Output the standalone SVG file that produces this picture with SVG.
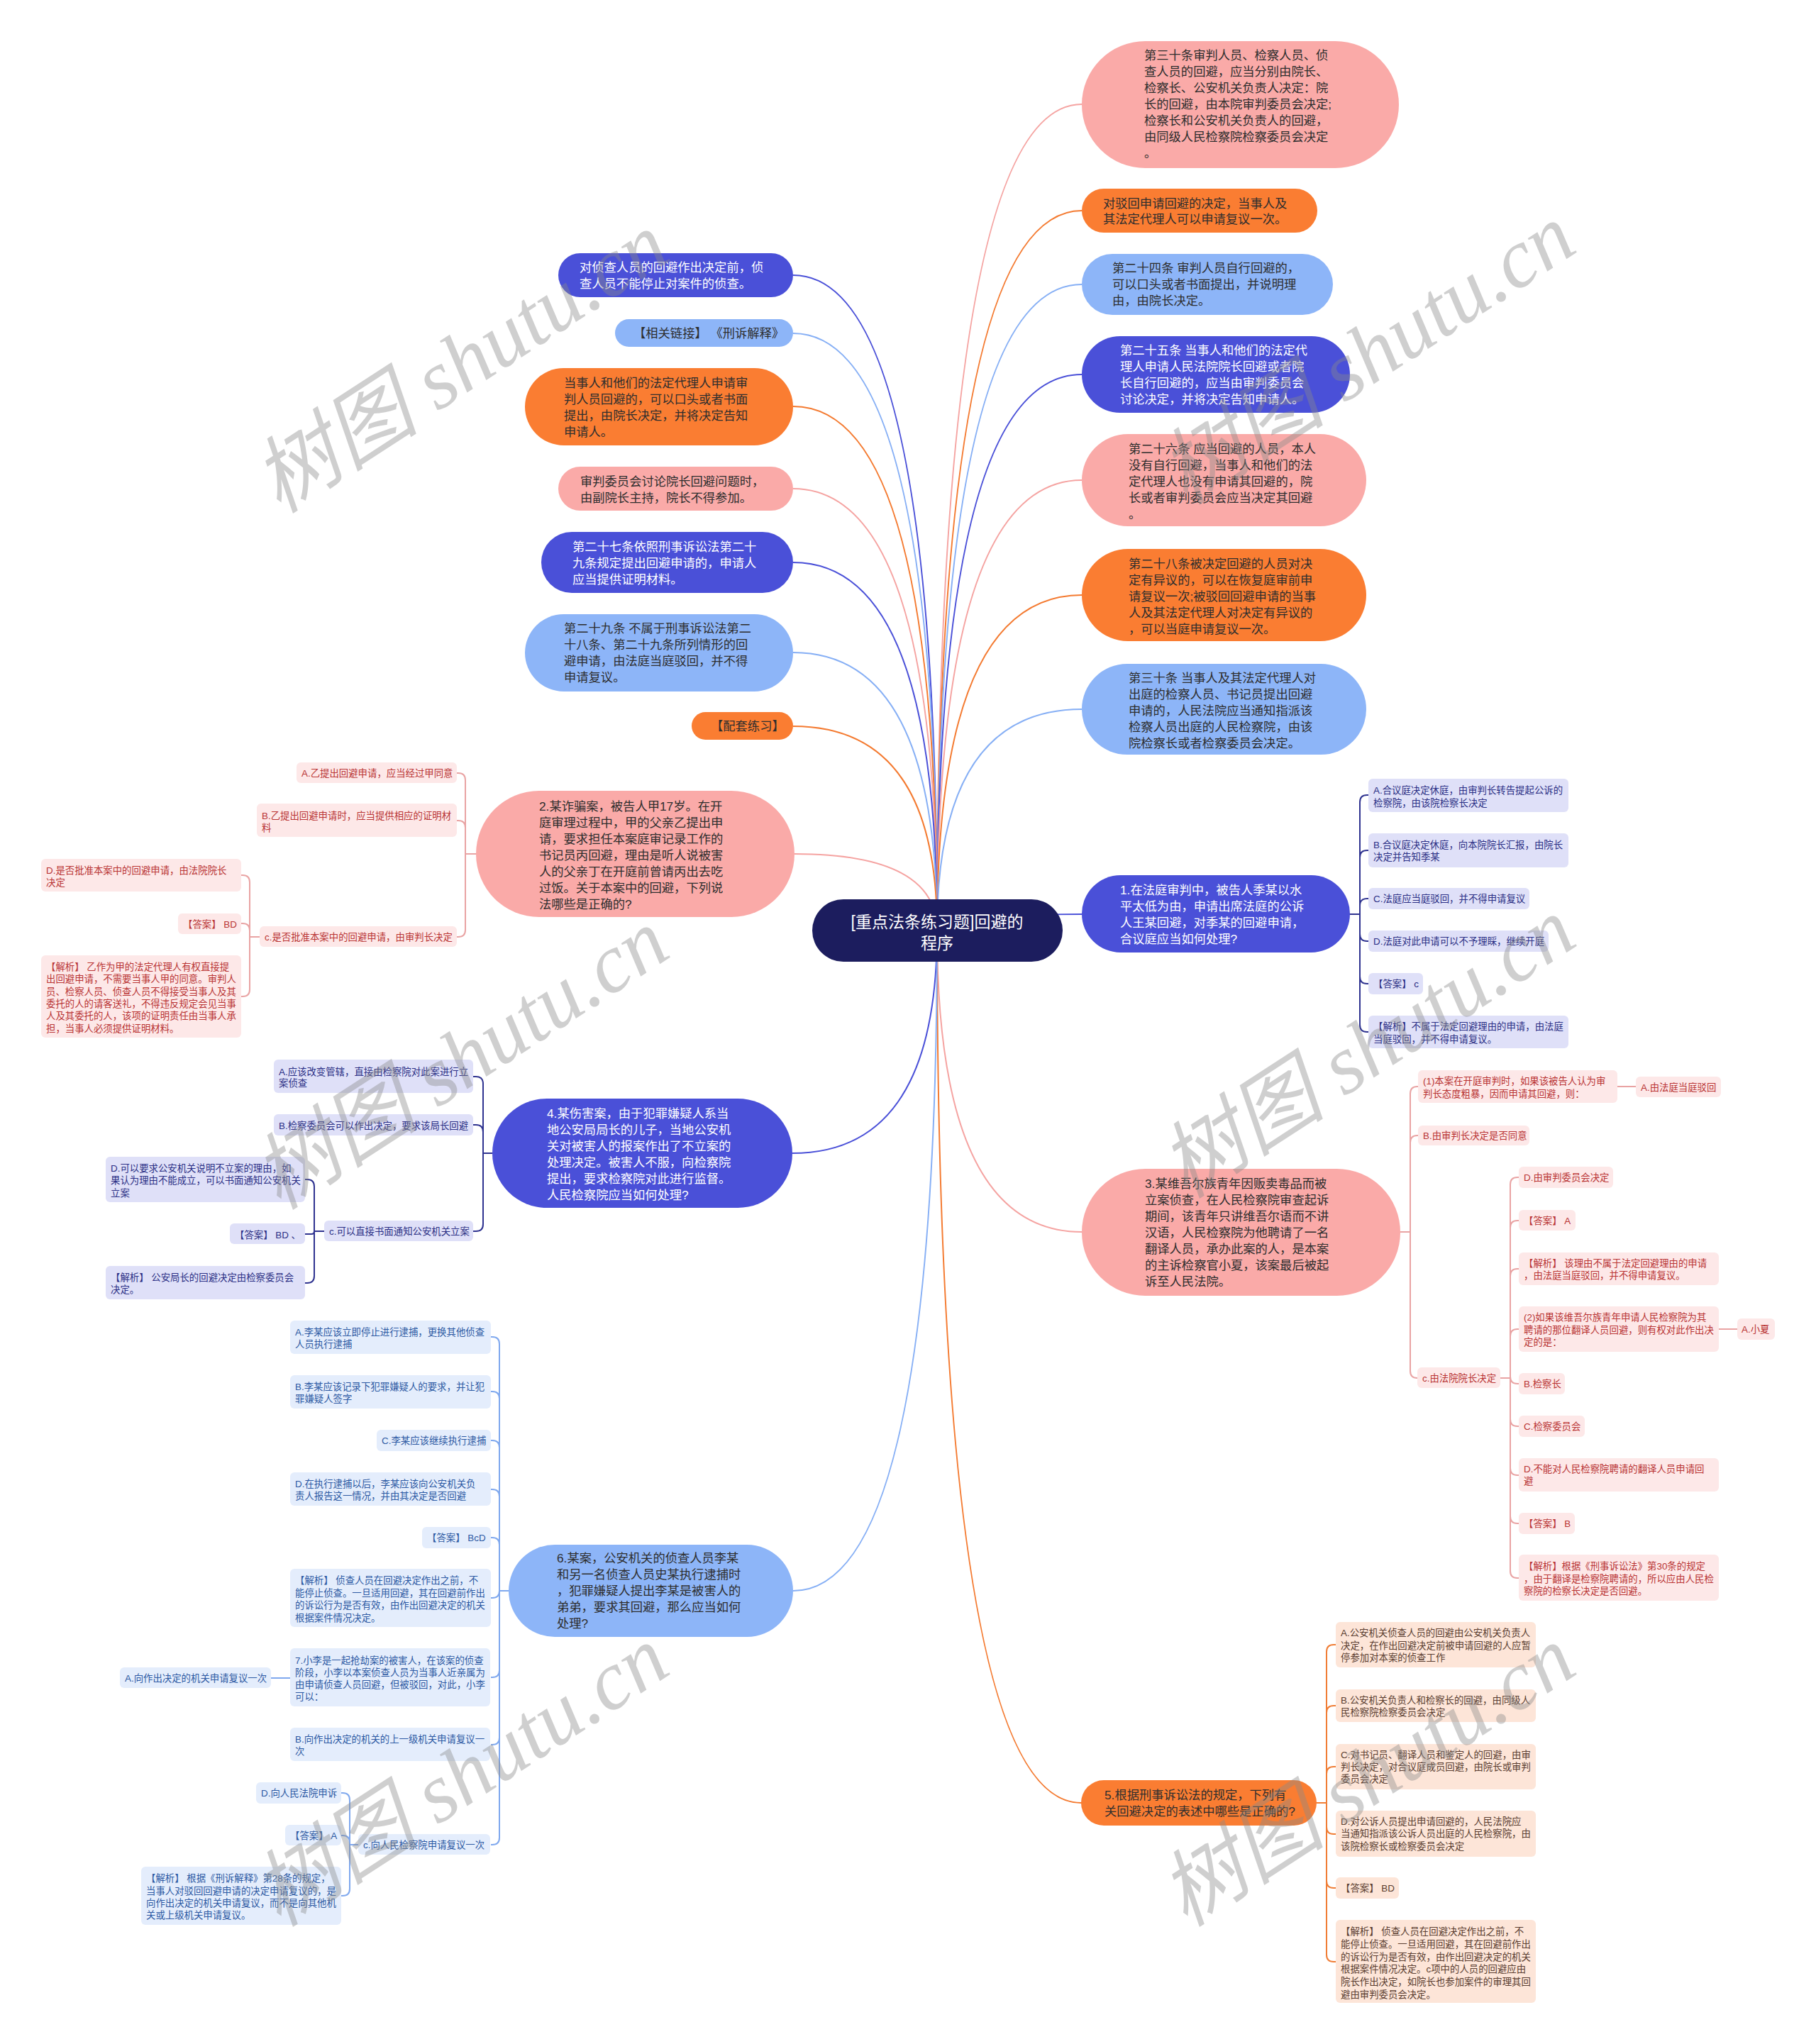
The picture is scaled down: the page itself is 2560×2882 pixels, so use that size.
<svg xmlns="http://www.w3.org/2000/svg" width="2560" height="2882" viewBox="0 0 2560 2882">
<style>
text,tspan{dominant-baseline:central}
text{font-family:"Liberation Sans","Noto Sans CJK SC",sans-serif}
.m{font-size:17.3px}
.s{font-size:13.4px}
.c{font-size:23px;fill:#ffffff}
.w{fill:#ffffff}
.d{fill:#2e2e2e}
.pk{fill:#faaaa8}
.or{fill:#fa7d32}
.lb{fill:#8db5f8}
.rb{fill:#4a50d8}
.cb{fill:#fde8e8}
.ct{fill:#b93434}
.lv{fill:#dfe0f8}
.lt{fill:#2b2f85}
.bb{fill:#e4edfc}
.bt{fill:#2c59a3}
.pb{fill:#fde5d8}
.pt{fill:#5a3d30}
.ln{fill:none;stroke-width:2}
.lpk{stroke:#f5a3a1}
.lor{stroke:#f47a30}
.llb{stroke:#86aff5}
.lrb{stroke:#4a50d8}
.lnv{stroke:#2f3390}
.lcp{stroke:#e9a3a3}
.lbl{stroke:#7fa8ee}
.lpo{stroke:#f07d35}
.wm{font-family:"Liberation Serif","Noto Sans CJK SC",serif;font-size:118px;font-style:italic;fill:#8a8a8a;opacity:0.4}
</style>
<rect x="0" y="0" width="2560" height="2882" fill="#ffffff"/>
<g id="connectors">
<path class="ln lpk" d="M1321,1312 Q1321,147 1525,147"/>
<path class="ln lor" d="M1321,1312 Q1321,297 1525,297"/>
<path class="ln llb" d="M1321,1312 Q1321,401 1525,401"/>
<path class="ln lrb" d="M1321,1312 Q1321,528 1525,528"/>
<path class="ln lpk" d="M1321,1312 Q1321,677 1525,677"/>
<path class="ln lor" d="M1321,1312 Q1321,839 1525,839"/>
<path class="ln llb" d="M1321,1312 Q1321,1000 1525,1000"/>
<path class="ln lrb" d="M1321,1312 Q1321,1289 1525,1289"/>
<path class="ln lpk" d="M1321,1312 Q1321,1737 1525,1737"/>
<path class="ln lor" d="M1321,1312 Q1321,2542 1524,2542"/>
<path class="ln lrb" d="M1321,1312 Q1321,388 1118,388"/>
<path class="ln llb" d="M1321,1312 Q1321,470 1118,470"/>
<path class="ln lor" d="M1321,1312 Q1321,573 1118,573"/>
<path class="ln lpk" d="M1321,1312 Q1321,689 1118,689"/>
<path class="ln lrb" d="M1321,1312 Q1321,793 1118,793"/>
<path class="ln llb" d="M1321,1312 Q1321,920 1118,920"/>
<path class="ln lor" d="M1321,1312 Q1321,1024 1118,1024"/>
<path class="ln lpk" d="M1321,1312 Q1321,1204 1120,1204"/>
<path class="ln lrb" d="M1321,1312 Q1321,1626 1117,1626"/>
<path class="ln llb" d="M1321,1312 Q1321,2243 1118,2243"/>
<!-- Q2 -->
<path class="ln lcp" d="M671,1204 H656 V1100 Q656,1090 646,1090 H644"/>
<path class="ln lcp" d="M671,1204 H656 V1167 Q656,1157 646,1157 H644"/>
<path class="ln lcp" d="M671,1204 H656 V1311 Q656,1321 646,1321 H644"/>
<path class="ln lcp" d="M366,1321 H352 V1244 Q352,1234 342,1234 H340"/>
<path class="ln lcp" d="M366,1321 H352 V1312 Q352,1302 342,1302 H340"/>
<path class="ln lcp" d="M366,1321 H352 V1395 Q352,1405 342,1405 H340"/>
<!-- Q1 -->
<path class="ln lnv" d="M1903,1289 H1917 V1131 Q1917,1121 1927,1121 H1929"/>
<path class="ln lnv" d="M1903,1289 H1917 V1209 Q1917,1199 1927,1199 H1929"/>
<path class="ln lnv" d="M1903,1289 H1917 V1277 Q1917,1267 1927,1267 H1929"/>
<path class="ln lnv" d="M1903,1289 H1917 V1317 Q1917,1327 1927,1327 H1929"/>
<path class="ln lnv" d="M1903,1289 H1917 V1377 Q1917,1387 1927,1387 H1929"/>
<path class="ln lnv" d="M1903,1289 H1917 V1445 Q1917,1455 1927,1455 H1929"/>
<!-- Q3 -->
<path class="ln lcp" d="M1974,1737 H1988 V1542 Q1988,1532 1998,1532 H1999"/>
<path class="ln lcp" d="M1974,1737 H1988 V1611 Q1988,1601 1998,1601 H1999"/>
<path class="ln lcp" d="M1974,1737 H1988 V1933 Q1988,1943 1998,1943"/>
<path class="ln lcp" d="M2280,1532 H2306"/>
<path class="ln lcp" d="M2115,1943 H2129 V1670 Q2129,1660 2139,1660 H2141"/>
<path class="ln lcp" d="M2115,1943 H2129 V1731 Q2129,1721 2139,1721 H2141"/>
<path class="ln lcp" d="M2115,1943 H2129 V1799 Q2129,1789 2139,1789 H2141"/>
<path class="ln lcp" d="M2115,1943 H2129 V1884 Q2129,1874 2139,1874 H2141"/>
<path class="ln lcp" d="M2115,1943 H2129 V1941 Q2129,1951 2139,1951 H2141"/>
<path class="ln lcp" d="M2115,1943 H2129 V2001 Q2129,2011 2139,2011 H2141"/>
<path class="ln lcp" d="M2115,1943 H2129 V2070 Q2129,2080 2139,2080 H2141"/>
<path class="ln lcp" d="M2115,1943 H2129 V2138 Q2129,2148 2139,2148 H2141"/>
<path class="ln lcp" d="M2115,1943 H2129 V2215 Q2129,2225 2139,2225 H2141"/>
<path class="ln lcp" d="M2423,1874 H2449"/>
<!-- Q4 -->
<path class="ln lnv" d="M694,1626 H681 V1528 Q681,1518 671,1518 H667"/>
<path class="ln lnv" d="M694,1626 H681 V1596 Q681,1586 671,1586 H667"/>
<path class="ln lnv" d="M694,1626 H681 V1726 Q681,1736 671,1736 H667"/>
<path class="ln lnv" d="M457,1736 H443 V1673 Q443,1663 433,1663 H430"/>
<path class="ln lnv" d="M457,1736 H443 Q443,1740 439,1740 H430"/>
<path class="ln lnv" d="M457,1736 H443 V1799 Q443,1809 433,1809 H430"/>
<!-- Q6 -->
<path class="ln lbl" d="M717,2243 H704 V1895 Q704,1885 694,1885 H692"/>
<path class="ln lbl" d="M717,2243 H704 V1972 Q704,1962 694,1962 H692"/>
<path class="ln lbl" d="M717,2243 H704 V2041 Q704,2031 694,2031 H692"/>
<path class="ln lbl" d="M717,2243 H704 V2110 Q704,2100 694,2100 H692"/>
<path class="ln lbl" d="M717,2243 H704 V2178 Q704,2168 694,2168 H692"/>
<path class="ln lbl" d="M717,2243 H704 Q704,2253 694,2253 H692"/>
<path class="ln lbl" d="M717,2243 H704 V2355 Q704,2365 694,2365 H692"/>
<path class="ln lbl" d="M717,2243 H704 V2450 Q704,2460 694,2460 H692"/>
<path class="ln lbl" d="M717,2243 H704 V2591 Q704,2601 694,2601 H692"/>
<path class="ln lbl" d="M409,2366 H382"/>
<path class="ln lbl" d="M505,2601 H493 V2538 Q493,2528 483,2528 H481"/>
<path class="ln lbl" d="M505,2601 H493 V2598 Q493,2588 483,2588 H481"/>
<path class="ln lbl" d="M505,2601 H493 V2663 Q493,2673 483,2673 H481"/>
<!-- Q5 -->
<path class="ln lpo" d="M1856,2542 H1870 V2329 Q1870,2319 1880,2319 H1883"/>
<path class="ln lpo" d="M1856,2542 H1870 V2415 Q1870,2405 1880,2405 H1883"/>
<path class="ln lpo" d="M1856,2542 H1870 V2501 Q1870,2491 1880,2491 H1883"/>
<path class="ln lpo" d="M1856,2542 H1870 V2576 Q1870,2586 1880,2586 H1883"/>
<path class="ln lpo" d="M1856,2542 H1870 V2652 Q1870,2662 1880,2662 H1883"/>
<path class="ln lpo" d="M1856,2542 H1870 V2756 Q1870,2766 1880,2766 H1883"/>
</g>
<g id="center"><rect x="1145" y="1268" width="353" height="88" rx="44" fill="#1c1d5e"/><text class="c" text-anchor="middle"><tspan x="1321" y="1300">[重点法条练习题]回避的</tspan><tspan x="1321" y="1330">程序</tspan></text></g>
<g id="n-r1"><rect class="pk" x="1525" y="58" width="447" height="179" rx="89.5"/><text class="m d"><tspan x="1613" y="78">第三十条审判人员、检察人员、侦</tspan><tspan x="1613" y="101">查人员的回避，应当分别由院长、</tspan><tspan x="1613" y="124">检察长、公安机关负责人决定：院</tspan><tspan x="1613" y="147">长的回避，由本院审判委员会决定;</tspan><tspan x="1613" y="170">检察长和公安机关负责人的回避，</tspan><tspan x="1613" y="193">由同级人民检察院检察委员会决定</tspan><tspan x="1613" y="216">。</tspan></text></g>
<g id="n-r2"><rect class="or" x="1525" y="266" width="332" height="62" rx="31"/><text class="m d"><tspan x="1555" y="287">对驳回申请回避的决定，当事人及</tspan><tspan x="1555" y="309">其法定代理人可以申请复议一次。</tspan></text></g>
<g id="n-r3"><rect class="lb" x="1525" y="358" width="354" height="86" rx="43"/><text class="m d"><tspan x="1568" y="378">第二十四条 审判人员自行回避的，</tspan><tspan x="1568" y="401">可以口头或者书面提出，并说明理</tspan><tspan x="1568" y="424">由，由院长决定。</tspan></text></g>
<g id="n-r4"><rect class="rb" x="1525" y="474" width="378" height="108" rx="54"/><text class="m w"><tspan x="1579" y="494">第二十五条 当事人和他们的法定代</tspan><tspan x="1579" y="517">理人申请人民法院院长回避或者院</tspan><tspan x="1579" y="540">长自行回避的，应当由审判委员会</tspan><tspan x="1579" y="563">讨论决定，并将决定告知申请人。</tspan></text></g>
<g id="n-r5"><rect class="pk" x="1525" y="612" width="401" height="130" rx="65"/><text class="m d"><tspan x="1591" y="633">第二十六条 应当回避的人员，本人</tspan><tspan x="1591" y="656">没有自行回避，当事人和他们的法</tspan><tspan x="1591" y="679">定代理人也没有申请其回避的，院</tspan><tspan x="1591" y="702">长或者审判委员会应当决定其回避</tspan><tspan x="1591" y="725">。</tspan></text></g>
<g id="n-r6"><rect class="or" x="1525" y="774" width="401" height="130" rx="65"/><text class="m d"><tspan x="1591" y="795">第二十八条被决定回避的人员对决</tspan><tspan x="1591" y="818">定有异议的，可以在恢复庭审前申</tspan><tspan x="1591" y="841">请复议一次;被驳回回避申请的当事</tspan><tspan x="1591" y="864">人及其法定代理人对决定有异议的</tspan><tspan x="1591" y="887">，可以当庭申请复议一次。</tspan></text></g>
<g id="n-r7"><rect class="lb" x="1525" y="936" width="401" height="128" rx="64"/><text class="m d"><tspan x="1591" y="956">第三十条 当事人及其法定代理人对</tspan><tspan x="1591" y="979">出庭的检察人员、书记员提出回避</tspan><tspan x="1591" y="1002">申请的，人民法院应当通知指派该</tspan><tspan x="1591" y="1025">检察人员出庭的人民检察院，由该</tspan><tspan x="1591" y="1048">院检察长或者检察委员会决定。</tspan></text></g>
<g id="n-q1"><rect class="rb" x="1525" y="1234" width="378" height="109" rx="54.5"/><text class="m w"><tspan x="1579" y="1255">1.在法庭审判中，被告人季某以水</tspan><tspan x="1579" y="1278">平太低为由，申请出席法庭的公诉</tspan><tspan x="1579" y="1301">人王某回避，对季某的回避申请，</tspan><tspan x="1579" y="1324">合议庭应当如何处理?</tspan></text></g>
<g id="n-q3"><rect class="pk" x="1525" y="1648" width="449" height="179" rx="89.5"/><text class="m d"><tspan x="1614" y="1669">3.某维吾尔族青年因贩卖毒品而被</tspan><tspan x="1614" y="1692">立案侦查，在人民检察院审查起诉</tspan><tspan x="1614" y="1715">期间，该青年只讲维吾尔语而不讲</tspan><tspan x="1614" y="1738">汉语，人民检察院为他聘请了一名</tspan><tspan x="1614" y="1761">翻译人员，承办此案的人，是本案</tspan><tspan x="1614" y="1784">的主诉检察官小夏，该案最后被起</tspan><tspan x="1614" y="1807">诉至人民法院。</tspan></text></g>
<g id="n-q5"><rect class="or" x="1524" y="2510" width="332" height="64" rx="32"/><text class="m d"><tspan x="1557" y="2531">5.根据刑事诉讼法的规定，下列有</tspan><tspan x="1557" y="2554">关回避决定的表述中哪些是正确的?</tspan></text></g>
<g id="n-l1"><rect class="rb" x="787" y="357" width="331" height="62" rx="31"/><text class="m w"><tspan x="817" y="377">对侦查人员的回避作出决定前，侦</tspan><tspan x="817" y="400">查人员不能停止对案件的侦查。</tspan></text></g>
<g id="n-l2"><rect class="lb" x="867" y="450" width="251" height="39" rx="19.5"/><text class="m d"><tspan x="893" y="470">【相关链接】 《刑诉解释》</tspan></text></g>
<g id="n-l3"><rect class="or" x="740" y="519" width="378" height="109" rx="54.5"/><text class="m d"><tspan x="795" y="540">当事人和他们的法定代理人申请审</tspan><tspan x="795" y="563">判人员回避的，可以口头或者书面</tspan><tspan x="795" y="586">提出，由院长决定，并将决定告知</tspan><tspan x="795" y="609">申请人。</tspan></text></g>
<g id="n-l4"><rect class="pk" x="787" y="658" width="331" height="62" rx="31"/><text class="m d"><tspan x="818" y="679">审判委员会讨论院长回避问题时，</tspan><tspan x="818" y="702">由副院长主持，院长不得参加。</tspan></text></g>
<g id="n-l5"><rect class="rb" x="763" y="750" width="355" height="86" rx="43"/><text class="m w"><tspan x="807" y="771">第二十七条依照刑事诉讼法第二十</tspan><tspan x="807" y="794">九条规定提出回避申请的，申请人</tspan><tspan x="807" y="817">应当提供证明材料。</tspan></text></g>
<g id="n-l6"><rect class="lb" x="740" y="866" width="378" height="109" rx="54.5"/><text class="m d"><tspan x="795" y="886">第二十九条 不属于刑事诉讼法第二</tspan><tspan x="795" y="909">十八条、第二十九条所列情形的回</tspan><tspan x="795" y="932">避申请，由法庭当庭驳回，并不得</tspan><tspan x="795" y="955">申请复议。</tspan></text></g>
<g id="n-l7"><rect class="or" x="975" y="1004" width="143" height="39" rx="19.5"/><text class="m d"><tspan x="1002" y="1024">【配套练习】</tspan></text></g>
<g id="n-q2"><rect class="pk" x="671" y="1115" width="449" height="178" rx="89"/><text class="m d"><tspan x="760" y="1137">2.某诈骗案，被告人甲17岁。在开</tspan><tspan x="760" y="1160">庭审理过程中，甲的父亲乙提出申</tspan><tspan x="760" y="1183">请，要求担任本案庭审记录工作的</tspan><tspan x="760" y="1206">书记员丙回避，理由是听人说被害</tspan><tspan x="760" y="1229">人的父亲丁在开庭前曾请丙出去吃</tspan><tspan x="760" y="1252">过饭。关于本案中的回避，下列说</tspan><tspan x="760" y="1275">法哪些是正确的?</tspan></text></g>
<g id="n-q4"><rect class="rb" x="694" y="1549" width="423" height="154" rx="77"/><text class="m w"><tspan x="771" y="1570">4.某伤害案，由于犯罪嫌疑人系当</tspan><tspan x="771" y="1593">地公安局局长的儿子，当地公安机</tspan><tspan x="771" y="1616">关对被害人的报案作出了不立案的</tspan><tspan x="771" y="1639">处理决定。被害人不服，向检察院</tspan><tspan x="771" y="1662">提出，要求检察院对此进行监督。</tspan><tspan x="771" y="1685">人民检察院应当如何处理?</tspan></text></g>
<g id="n-q6"><rect class="lb" x="717" y="2178" width="401" height="130" rx="65"/><text class="m d"><tspan x="785" y="2197">6.某案，公安机关的侦查人员李某</tspan><tspan x="785" y="2220">和另一名侦查人员史某执行逮捕时</tspan><tspan x="785" y="2243">，犯罪嫌疑人提出李某是被害人的</tspan><tspan x="785" y="2266">弟弟，要求其回避，那么应当如何</tspan><tspan x="785" y="2289">处理?</tspan></text></g>
<!-- Q2 children -->
<g id="q2-a"><rect class="cb" x="418" y="1075" width="226" height="29" rx="6"/><text class="s ct"><tspan x="425" y="1090">A.乙提出回避申请，应当经过甲同意</tspan></text></g>
<g id="q2-b"><rect class="cb" x="362" y="1133" width="282" height="47" rx="6"/><text class="s ct"><tspan x="369" y="1150">B.乙提出回避申请时，应当提供相应的证明材</tspan><tspan x="369" y="1167">料</tspan></text></g>
<g id="q2-c"><rect class="cb" x="366" y="1306" width="278" height="29" rx="6"/><text class="s ct"><tspan x="373" y="1321">c.是否批准本案中的回避申请，由审判长决定</tspan></text></g>
<g id="q2-d"><rect class="cb" x="58" y="1211" width="282" height="46" rx="6"/><text class="s ct"><tspan x="65" y="1227">D.是否批准本案中的回避申请，由法院院长</tspan><tspan x="65" y="1244">决定</tspan></text></g>
<g id="q2-ans"><rect class="cb" x="251" y="1288" width="89" height="29" rx="6"/><text class="s ct"><tspan x="258" y="1303">【答案】 BD</tspan></text></g>
<g id="q2-exp"><rect class="cb" x="58" y="1347" width="282" height="116" rx="6"/><text class="s ct"><tspan x="65" y="1363">【解析】 乙作为甲的法定代理人有权直接提</tspan><tspan x="65" y="1380">出回避申请，不需要当事人甲的同意。审判人</tspan><tspan x="65" y="1398">员、检察人员、侦查人员不得接受当事人及其</tspan><tspan x="65" y="1415">委托的人的请客送礼，不得违反规定会见当事</tspan><tspan x="65" y="1432">人及其委托的人，该项的证明责任由当事人承</tspan><tspan x="65" y="1450">担，当事人必须提供证明材料。</tspan></text></g>
<!-- Q1 children -->
<g id="q1-a"><rect class="lv" x="1929" y="1098" width="282" height="47" rx="6"/><text class="s lt"><tspan x="1936" y="1114">A.合议庭决定休庭，由审判长转告提起公诉的</tspan><tspan x="1936" y="1132">检察院，由该院检察长决定</tspan></text></g>
<g id="q1-b"><rect class="lv" x="1929" y="1175" width="282" height="48" rx="6"/><text class="s lt"><tspan x="1936" y="1191">B.合议庭决定休庭，向本院院长汇报，由院长</tspan><tspan x="1936" y="1208">决定并告知季某</tspan></text></g>
<g id="q1-c"><rect class="lv" x="1929" y="1252" width="227" height="30" rx="6"/><text class="s lt"><tspan x="1936" y="1267">C.法庭应当庭驳回，并不得申请复议</tspan></text></g>
<g id="q1-d"><rect class="lv" x="1929" y="1312" width="254" height="30" rx="6"/><text class="s lt"><tspan x="1936" y="1327">D.法庭对此申请可以不予理睬，继续开庭</tspan></text></g>
<g id="q1-ans"><rect class="lv" x="1929" y="1372" width="77" height="30" rx="6"/><text class="s lt"><tspan x="1936" y="1387">【答案】 c</tspan></text></g>
<g id="q1-exp"><rect class="lv" x="1929" y="1432" width="282" height="46" rx="6"/><text class="s lt"><tspan x="1936" y="1447">【解析】不属于法定回避理由的申请，由法庭</tspan><tspan x="1936" y="1465">当庭驳回，并不得申请复议。</tspan></text></g>
<!-- Q3 children -->
<g id="q3-1"><rect class="cb" x="1999" y="1509" width="281" height="46" rx="6"/><text class="s ct"><tspan x="2006" y="1524">(1)本案在开庭审判时，如果该被告人认为审</tspan><tspan x="2006" y="1542">判长态度粗暴，因而申请其回避，则：</tspan></text></g>
<g id="q3-1a"><rect class="cb" x="2306" y="1518" width="120" height="29" rx="6"/><text class="s ct"><tspan x="2313" y="1533">A.由法庭当庭驳回</tspan></text></g>
<g id="q3-b"><rect class="cb" x="1999" y="1587" width="157" height="28" rx="6"/><text class="s ct"><tspan x="2006" y="1601">B.由审判长决定是否同意</tspan></text></g>
<g id="q3-c"><rect class="cb" x="1998" y="1928" width="117" height="29" rx="6"/><text class="s ct"><tspan x="2005" y="1943">c.由法院院长决定</tspan></text></g>
<g id="q3-c-d"><rect class="cb" x="2141" y="1645" width="133" height="30" rx="6"/><text class="s ct"><tspan x="2148" y="1660">D.由审判委员会决定</tspan></text></g>
<g id="q3-c-ans1"><rect class="cb" x="2141" y="1706" width="80" height="29" rx="6"/><text class="s ct"><tspan x="2148" y="1721">【答案】 A</tspan></text></g>
<g id="q3-c-exp1"><rect class="cb" x="2141" y="1766" width="282" height="46" rx="6"/><text class="s ct"><tspan x="2148" y="1781">【解析】 该理由不属于法定回避理由的申请</tspan><tspan x="2148" y="1798">，由法庭当庭驳回，并不得申请复议。</tspan></text></g>
<g id="q3-c-2"><rect class="cb" x="2141" y="1842" width="282" height="64" rx="6"/><text class="s ct"><tspan x="2148" y="1857">(2)如果该维吾尔族青年申请人民检察院为其</tspan><tspan x="2148" y="1875">聘请的那位翻译人员回避，则有权对此作出决</tspan><tspan x="2148" y="1892">定的是：</tspan></text></g>
<g id="q3-c-2a"><rect class="cb" x="2449" y="1859" width="53" height="30" rx="6"/><text class="s ct"><tspan x="2455" y="1874">A.小夏</tspan></text></g>
<g id="q3-c-b"><rect class="cb" x="2141" y="1936" width="65" height="30" rx="6"/><text class="s ct"><tspan x="2148" y="1951">B.检察长</tspan></text></g>
<g id="q3-c-c"><rect class="cb" x="2141" y="1996" width="93" height="30" rx="6"/><text class="s ct"><tspan x="2148" y="2011">C.检察委员会</tspan></text></g>
<g id="q3-c-dd"><rect class="cb" x="2141" y="2056" width="282" height="47" rx="6"/><text class="s ct"><tspan x="2148" y="2071">D.不能对人民检察院聘请的翻译人员申请回</tspan><tspan x="2148" y="2088">避</tspan></text></g>
<g id="q3-c-ans2"><rect class="cb" x="2141" y="2133" width="79" height="30" rx="6"/><text class="s ct"><tspan x="2148" y="2148">【答案】 B</tspan></text></g>
<g id="q3-c-exp2"><rect class="cb" x="2141" y="2192" width="282" height="65" rx="6"/><text class="s ct"><tspan x="2148" y="2208">【解析】根据《刑事诉讼法》第30条的规定</tspan><tspan x="2148" y="2226">，由于翻译是检察院聘请的，所以应由人民检</tspan><tspan x="2148" y="2243">察院的检察长决定是否回避。</tspan></text></g>
<!-- Q4 children -->
<g id="q4-a"><rect class="lv" x="386" y="1494" width="281" height="47" rx="6"/><text class="s lt"><tspan x="393" y="1511">A.应该改变管辖，直接由检察院对此案进行立</tspan><tspan x="393" y="1527">案侦查</tspan></text></g>
<g id="q4-b"><rect class="lv" x="386" y="1571" width="281" height="30" rx="6"/><text class="s lt"><tspan x="393" y="1587">B.检察委员会可以作出决定，要求该局长回避</tspan></text></g>
<g id="q4-c"><rect class="lv" x="457" y="1721" width="210" height="29" rx="6"/><text class="s lt"><tspan x="464" y="1736">c.可以直接书面通知公安机关立案</tspan></text></g>
<g id="q4-c-d"><rect class="lv" x="149" y="1631" width="281" height="64" rx="6"/><text class="s lt"><tspan x="156" y="1647">D.可以要求公安机关说明不立案的理由，如</tspan><tspan x="156" y="1664">果认为理由不能成立，可以书面通知公安机关</tspan><tspan x="156" y="1682">立案</tspan></text></g>
<g id="q4-c-ans"><rect class="lv" x="324" y="1725" width="106" height="29" rx="6"/><text class="s lt"><tspan x="331" y="1741">【答案】 BD 、</tspan></text></g>
<g id="q4-c-exp"><rect class="lv" x="149" y="1785" width="281" height="47" rx="6"/><text class="s lt"><tspan x="156" y="1801">【解析】 公安局长的回避决定由检察委员会</tspan><tspan x="156" y="1818">决定。</tspan></text></g>
<!-- Q6 children -->
<g id="q6-a"><rect class="bb" x="409" y="1862" width="283" height="47" rx="6"/><text class="s bt"><tspan x="416" y="1878">A.李某应该立即停止进行逮捕，更换其他侦查</tspan><tspan x="416" y="1895">人员执行逮捕</tspan></text></g>
<g id="q6-b"><rect class="bb" x="409" y="1939" width="283" height="47" rx="6"/><text class="s bt"><tspan x="416" y="1955">B.李某应该记录下犯罪嫌疑人的要求，并让犯</tspan><tspan x="416" y="1972">罪嫌疑人签字</tspan></text></g>
<g id="q6-c"><rect class="bb" x="531" y="2016" width="161" height="30" rx="6"/><text class="s bt"><tspan x="538" y="2031">C.李某应该继续执行逮捕</tspan></text></g>
<g id="q6-d"><rect class="bb" x="409" y="2076" width="283" height="47" rx="6"/><text class="s bt"><tspan x="416" y="2092">D.在执行逮捕以后，李某应该向公安机关负</tspan><tspan x="416" y="2109">责人报告这一情况，并由其决定是否回避</tspan></text></g>
<g id="q6-ans"><rect class="bb" x="595" y="2153" width="97" height="30" rx="6"/><text class="s bt"><tspan x="602" y="2168">【答案】 BcD</tspan></text></g>
<g id="q6-exp"><rect class="bb" x="409" y="2212" width="283" height="82" rx="6"/><text class="s bt"><tspan x="416" y="2228">【解析】 侦查人员在回避决定作出之前，不</tspan><tspan x="416" y="2246">能停止侦查。一旦适用回避，其在回避前作出</tspan><tspan x="416" y="2263">的诉讼行为是否有效，由作出回避决定的机关</tspan><tspan x="416" y="2281">根据案件情况决定。</tspan></text></g>
<g id="q6-7"><rect class="bb" x="409" y="2324" width="282" height="82" rx="6"/><text class="s bt"><tspan x="416" y="2341">7.小李是一起抢劫案的被害人，在该案的侦查</tspan><tspan x="416" y="2358">阶段，小李以本案侦查人员为当事人近亲属为</tspan><tspan x="416" y="2375">由申请侦查人员回避，但被驳回，对此，小李</tspan><tspan x="416" y="2392">可以：</tspan></text></g>
<g id="q6-7a"><rect class="bb" x="169" y="2351" width="213" height="29" rx="6"/><text class="s bt"><tspan x="176" y="2366">A.向作出决定的机关申请复议一次</tspan></text></g>
<g id="q6-bb"><rect class="bb" x="409" y="2436" width="282" height="47" rx="6"/><text class="s bt"><tspan x="416" y="2452">B.向作出决定的机关的上一级机关申请复议一</tspan><tspan x="416" y="2469">次</tspan></text></g>
<g id="q6-cc"><rect class="bb" x="505" y="2586" width="186" height="29" rx="6"/><text class="s bt"><tspan x="512" y="2601">c.向人民检察院申请复议一次</tspan></text></g>
<g id="q6-cc-d"><rect class="bb" x="361" y="2513" width="120" height="30" rx="6"/><text class="s bt"><tspan x="368" y="2528">D.向人民法院申诉</tspan></text></g>
<g id="q6-cc-ans"><rect class="bb" x="402" y="2573" width="79" height="29" rx="6"/><text class="s bt"><tspan x="409" y="2588">【答案】 A</tspan></text></g>
<g id="q6-cc-exp"><rect class="bb" x="199" y="2632" width="282" height="82" rx="6"/><text class="s bt"><tspan x="206" y="2648">【解析】 根据《刑诉解释》第28条的规定，</tspan><tspan x="206" y="2666">当事人对驳回回避申请的决定申请复议的，是</tspan><tspan x="206" y="2683">向作出决定的机关申请复议，而不是向其他机</tspan><tspan x="206" y="2700">关或上级机关申请复议。</tspan></text></g>
<!-- Q5 children -->
<g id="q5-a"><rect class="pb" x="1883" y="2287" width="282" height="64" rx="6"/><text class="s pt"><tspan x="1890" y="2302">A.公安机关侦查人员的回避由公安机关负责人</tspan><tspan x="1890" y="2320">决定，在作出回避决定前被申请回避的人应暂</tspan><tspan x="1890" y="2337">停参加对本案的侦查工作</tspan></text></g>
<g id="q5-b"><rect class="pb" x="1883" y="2382" width="282" height="46" rx="6"/><text class="s pt"><tspan x="1890" y="2397">B.公安机关负责人和检察长的回避，由同级人</tspan><tspan x="1890" y="2414">民检察院检察委员会决定</tspan></text></g>
<g id="q5-c"><rect class="pb" x="1883" y="2459" width="282" height="64" rx="6"/><text class="s pt"><tspan x="1890" y="2474">C.对书记员、翻译人员和鉴定人的回避，由审</tspan><tspan x="1890" y="2491">判长决定，对合议庭成员回避，由院长或审判</tspan><tspan x="1890" y="2508">委员会决定</tspan></text></g>
<g id="q5-d"><rect class="pb" x="1883" y="2553" width="282" height="65" rx="6"/><text class="s pt"><tspan x="1890" y="2568">D.对公诉人员提出申请回避的，人民法院应</tspan><tspan x="1890" y="2585">当通知指派该公诉人员出庭的人民检察院，由</tspan><tspan x="1890" y="2603">该院检察长或检察委员会决定</tspan></text></g>
<g id="q5-ans"><rect class="pb" x="1883" y="2647" width="89" height="30" rx="6"/><text class="s pt"><tspan x="1890" y="2662">【答案】 BD</tspan></text></g>
<g id="q5-exp"><rect class="pb" x="1883" y="2707" width="282" height="117" rx="6"/><text class="s pt"><tspan x="1890" y="2723">【解析】 侦查人员在回避决定作出之前，不</tspan><tspan x="1890" y="2741">能停止侦查。一旦适用回避，其在回避前作出</tspan><tspan x="1890" y="2759">的诉讼行为是否有效，由作出回避决定的机关</tspan><tspan x="1890" y="2776">根据案件情况决定。c项中的人员的回避应由</tspan><tspan x="1890" y="2794">院长作出决定，如院长也参加案件的审理其回</tspan><tspan x="1890" y="2812">避由审判委员会决定。</tspan></text></g>
<g id="watermarks">
<text class="wm" text-anchor="middle" transform="translate(650,512) rotate(-33)">树图 shutu.cn</text>
<text class="wm" text-anchor="middle" transform="translate(1928,500) rotate(-33)">树图 shutu.cn</text>
<text class="wm" text-anchor="middle" transform="translate(650,1494) rotate(-33)">树图 shutu.cn</text>
<text class="wm" text-anchor="middle" transform="translate(1928,1478) rotate(-33)">树图 shutu.cn</text>
<text class="wm" text-anchor="middle" transform="translate(650,2505) rotate(-33)">树图 shutu.cn</text>
<text class="wm" text-anchor="middle" transform="translate(1928,2505) rotate(-33)">树图 shutu.cn</text>
</g>
</svg>
